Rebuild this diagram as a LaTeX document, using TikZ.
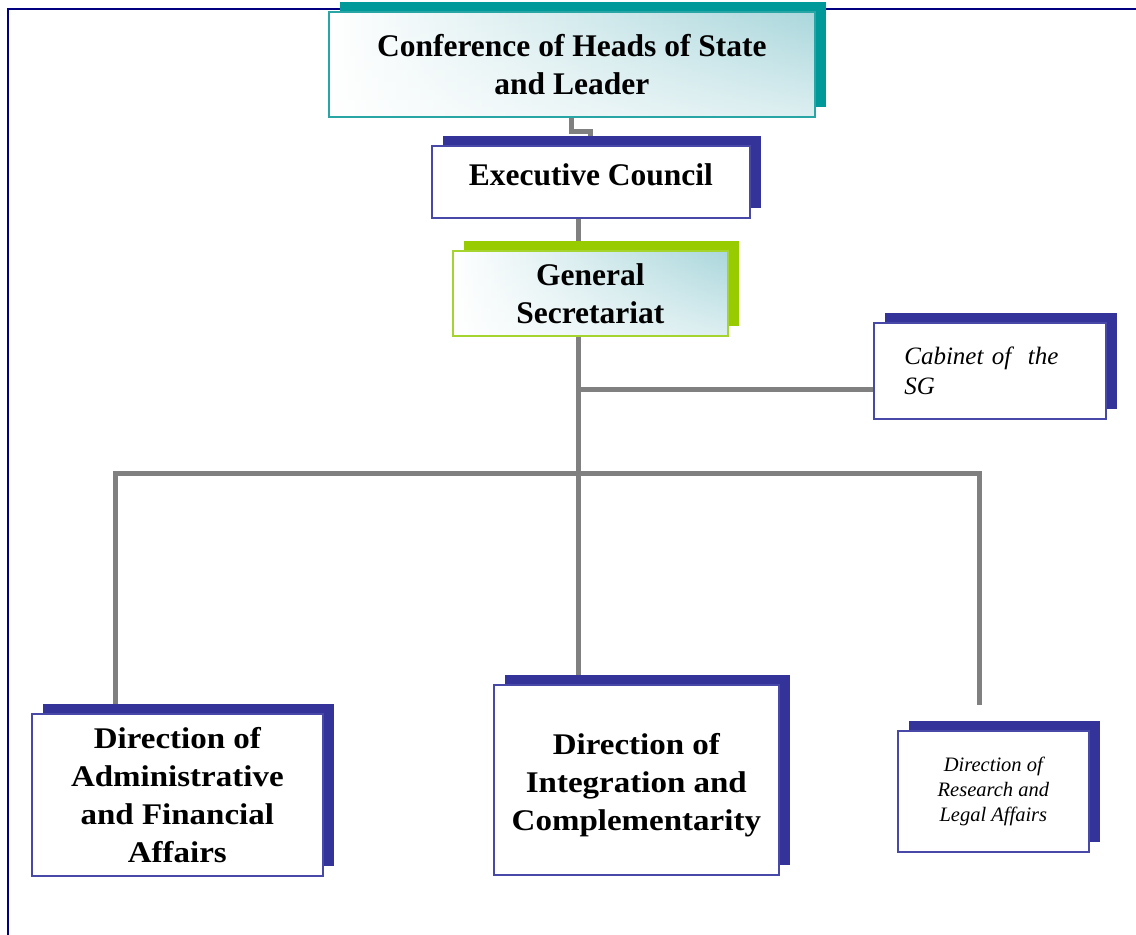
\documentclass[tikz,border=0pt]{standalone}
\usepackage{fontspec}
\setmainfont{Liberation Serif}
\newfontfamily\wideserif{Liberation Serif}[FakeStretch=1.1]
\usetikzlibrary{shadows,fadings,backgrounds}
\definecolor{frameC}{RGB}{0,0,128}
\definecolor{navyS}{RGB}{51,51,153}
\definecolor{navyB}{RGB}{72,72,168}
\definecolor{tealS}{RGB}{0,153,153}
\definecolor{tealB}{RGB}{40,165,165}
\definecolor{greenS}{RGB}{153,204,0}
\definecolor{greenB}{RGB}{166,212,46}
\definecolor{tealL}{RGB}{170,215,220}
\definecolor{linkC}{RGB}{128,128,128}
\tikzset{
  boxshadow/.style={drop shadow={shadow xshift=11pt,shadow yshift=10pt,fill=#1,opacity=1}},
  orgbox/.style={rectangle, draw=navyB, line width=1.7pt, fill=white, anchor=north west,
    inner sep=0pt, align=center, text=black, boxshadow=navyS},
  gradbox/.style={rectangle, draw=#1, line width=1.7pt, anchor=north west, inner sep=0pt,
    align=center, text=black, left color=white, right color=tealL,
    postaction={fill=white, fill opacity=.6, path fading=north},
    postaction={draw=#1, line width=1.7pt}},
  bigbold/.style={font=\fontsize{31.5}{38}\selectfont\bfseries},
  lowbold/.style={font=\wideserif\fontsize{30}{38}\selectfont\bfseries},
  link/.style={draw=linkC, line width=5pt, line join=miter},
  frameline/.style={draw=frameC, line width=2pt},
}
\begin{document}
\begin{tikzpicture}
\useasboundingbox (0,0) rectangle (1136pt,-935pt);
\begin{scope}[x=1pt,y=1pt]
% boxes
\node[gradbox=tealB, boxshadow=tealS, bigbold, minimum width=486pt, minimum height=105pt]
  (conf) at (328,-11) {Conference of Heads of State\\and Leader};
\node[orgbox, bigbold, minimum width=318pt, minimum height=72pt, text depth=14pt]
  (exec) at (431,-145) {Executive Council};
\node[gradbox=greenB, boxshadow=greenS, bigbold, minimum width=275pt, minimum height=85pt]
  (gs) at (452,-250) {General\\Secretariat};
\node[orgbox, font=\fontsize{25}{30}\selectfont\itshape, align=left, text width=171pt,
  inner xsep=30pt, minimum width=232pt, minimum height=96pt]
  (cab) at (873,-322) {Cabinet of\ \ the\\SG};
\node[orgbox, lowbold, minimum width=291pt, minimum height=162pt]
  (afa) at (31,-713) {Direction of\\Administrative\\and Financial\\Affairs};
\node[orgbox, lowbold, minimum width=285pt, minimum height=190pt]
  (integ) at (493,-684) {\rule{0pt}{31pt}Direction of\\Integration and\\Complementarity};
\node[orgbox, font=\fontsize{20.5}{25}\selectfont\itshape, minimum width=191pt, minimum height=121pt]
  (res) at (897,-730) {Direction of\\Research and\\Legal Affairs};
% helper coordinates
\coordinate (tx) at (578,-300);
\coordinate (cabY) at (0,-389);
\coordinate (barL) at (115,-473);
\coordinate (barR) at (979,-473);
\coordinate (resEnd) at (979,-705);
\begin{scope}[on background layer]
  \draw[frameline] (8,-935) -- (8,-9) -- (1136,-9);
  \draw[link] (conf.south) -- ++(0,-14) -| (exec.north);
  \draw[link] (exec.south -| tx) -- (gs.north -| tx);
  \draw[link] (gs.south -| tx) -- (integ.north -| tx);
  \draw[link] (tx |- cabY) -- (cab.west |- cabY);
  \draw[link] (afa.north -| barL) -- (barL) -- (barR) -- (resEnd);
\end{scope}
\end{scope}
\end{tikzpicture}
\end{document}
